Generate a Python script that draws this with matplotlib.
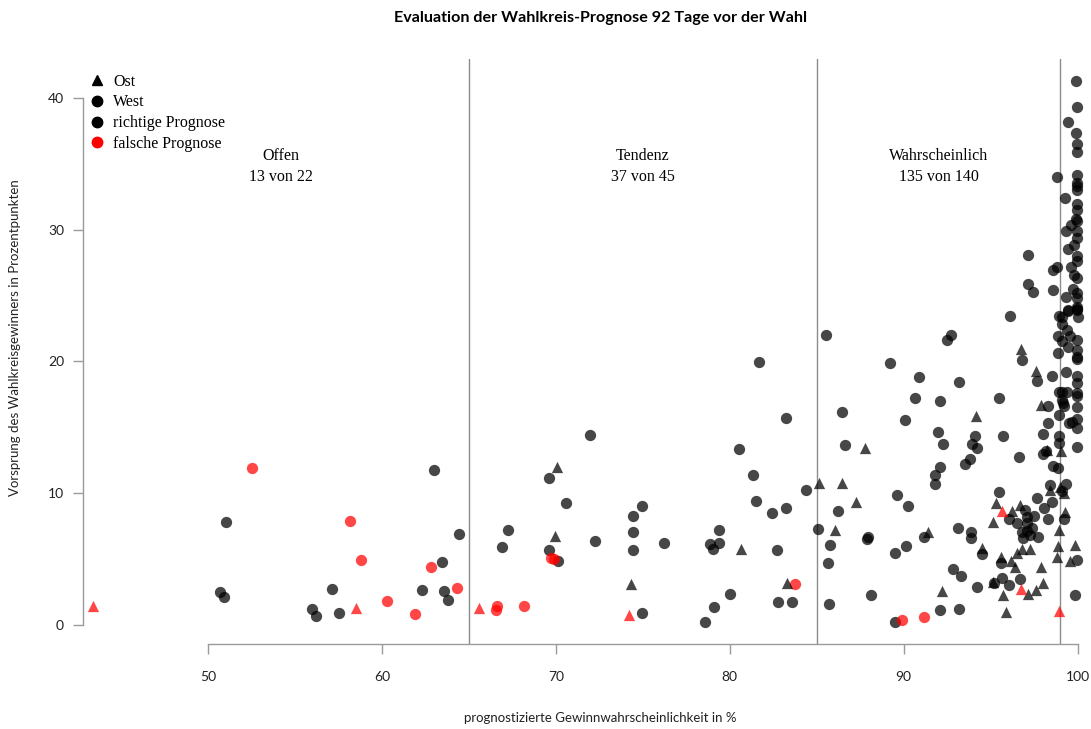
import numpy as np
import matplotlib
matplotlib.use("Agg")
import matplotlib.pyplot as plt
from matplotlib.lines import Line2D

# prognostizierte Gewinnwahrscheinlichkeit (%), Vorsprung (Prozentpunkte),
# Gebiet (O = Ost, W = West), Prognose richtig (1) oder falsch (0)
prob = [
    # Offen
    43.37, 52.56, 51.03, 50.72, 50.90, 58.16, 58.79, 64.44, 63.43, 62.83, 64.31,
    62.32, 63.58, 63.81, 57.16, 55.98, 56.22, 57.53, 58.54, 60.30, 61.90, 63.00,
    # Tendenz
    65.61, 66.64, 66.57, 68.16, 69.71, 69.90, 74.20, 83.77,
    66.93, 67.26, 69.58, 70.06, 70.59, 69.96, 69.62, 70.13, 71.97, 72.24, 74.31,
    74.94, 74.46, 74.98, 74.46, 74.44, 76.19, 78.58, 79.12, 80.02, 78.85, 79.06,
    79.38, 79.38, 80.63, 81.68, 83.22, 80.55, 81.34, 81.51, 82.45, 83.25, 82.72,
    83.31, 82.76, 83.58, 84.39,
    # Wahrscheinlich
    85.13, 85.09, 85.54, 86.45, 86.44, 86.65, 87.78, 87.28, 86.22, 86.07, 85.75,
    85.65, 85.69, 87.91, 87.93, 88.10, 89.20, 89.63, 90.26, 90.07, 90.67, 90.90,
    89.52, 90.11, 89.47, 89.88, 91.15, 92.09, 93.18, 92.18, 91.17, 91.38, 92.51,
    92.70, 93.18, 92.09, 91.98, 92.24, 92.10, 91.82, 91.82, 92.82, 93.31, 93.14,
    93.87, 93.87, 94.21, 94.17, 94.10, 93.94, 94.23, 93.83, 93.51, 94.48, 94.50,
    95.46, 95.29, 95.65, 95.15, 95.50, 95.69, 95.11, 95.20, 95.63, 95.57, 95.59,
    95.72, 95.88, 96.72, 96.80, 97.59, 97.68, 96.64, 97.89, 98.31, 98.52, 98.85,
    98.01, 98.32, 97.98, 98.20, 98.25, 98.60, 98.85, 98.94, 98.93, 98.94, 98.93,
    96.15, 96.42, 96.53, 96.81, 97.25, 96.77, 96.86, 97.06, 97.35, 97.25, 97.70,
    96.07, 96.51, 96.24, 96.70, 96.95, 97.06, 97.48, 97.06, 97.68, 98.05, 98.55,
    98.30, 98.42, 98.40, 98.98, 98.94, 98.88, 98.79, 97.89, 98.00, 97.59, 97.13,
    96.75, 96.70, 96.07, 97.13, 97.13, 97.41, 96.11, 98.60, 98.79, 98.60, 98.80,
    98.94, 98.85, 98.90,
    # Sicher
    99.10, 99.19, 99.33, 99.29, 99.20, 99.04, 99.86, 99.57, 99.95, 99.83, 99.31,
    99.88, 99.97, 99.42, 99.88, 99.97, 99.97, 99.97, 99.95, 99.95, 99.95, 99.29,
    99.97, 99.94, 99.90, 99.97, 99.63, 99.33, 99.97, 99.97, 99.78, 99.42, 99.94,
    99.97, 99.63, 99.78, 99.94, 99.73, 99.94, 99.97, 99.34, 99.97, 99.94, 99.46,
    99.10, 99.46, 99.94, 99.99, 99.09, 99.40, 99.10, 99.58, 99.97, 99.46, 99.97,
    99.97, 99.97, 99.94, 99.94, 99.08, 99.40, 99.94, 99.97, 99.09, 99.17, 99.24,
    99.97, 99.97, 99.97, 99.69, 99.48, 99.97,
]
vorsprung = [
    1.47, 11.95, 7.85, 2.48, 2.13, 7.87, 4.96, 6.91, 4.81, 4.40, 2.78,
    2.66, 2.61, 1.90, 2.73, 1.21, 0.68, 0.91, 1.31, 1.85, 0.81, 11.74,
    1.27, 1.47, 1.14, 1.42, 5.06, 5.00, 0.74, 3.09,
    5.92, 7.21, 11.19, 11.97, 9.29, 6.76, 5.69, 4.86, 14.43, 6.40, 3.09,
    0.94, 8.30, 9.06, 7.04, 5.69, 6.20, 0.25, 1.39, 2.33, 6.15, 5.75,
    6.25, 7.21, 5.77, 19.95, 15.69, 13.36, 11.41, 9.42, 8.53, 8.91, 5.69,
    3.19, 1.72, 1.72, 10.23,
    10.80, 7.27, 21.97, 10.76, 16.17, 13.64, 13.46, 9.36, 8.66, 7.21, 6.07,
    4.73, 1.62, 6.53, 6.65, 2.28, 19.89, 9.87, 9.01, 15.57, 17.24, 18.81,
    5.49, 6.02, 0.25, 0.40, 0.63, 1.16, 1.19, 2.58, 6.66, 7.08, 21.60,
    21.97, 18.47, 16.96, 14.63, 13.77, 12.00, 11.41, 10.73, 4.23, 3.72, 7.39,
    7.08, 6.58, 2.89, 15.85, 14.37, 13.72, 13.46, 12.58, 12.22, 5.87, 5.37,
    10.08, 9.26, 8.63, 7.80, 17.24, 14.37, 3.29, 3.20, 3.55, 5.14, 4.73,
    2.28, 0.99, 20.96, 20.12, 19.24, 18.50, 12.71, 16.66, 16.58, 18.86, 20.63,
    14.50, 15.36, 12.96, 13.23, 13.30, 12.07, 11.92, 14.37, 13.79, 15.92, 17.67,
    4.86, 4.43, 5.49, 5.77, 5.77, 7.08, 6.58, 7.16, 7.34, 6.81, 6.66,
    8.07, 7.74, 8.66, 9.09, 8.73, 8.22, 8.28, 7.77, 9.62, 8.91, 9.34,
    8.05, 10.65, 10.25, 10.50, 7.21, 6.02, 5.14, 4.43, 3.22, 2.66, 2.33,
    2.71, 3.49, 3.04, 28.09, 25.89, 25.23, 23.46, 26.95, 27.16, 25.38, 34.00,
    23.46, 21.94, 1.06,
    10.15, 10.00, 10.71, 8.56, 8.03, 13.21, 6.07, 4.88, 4.91, 2.28, 19.16,
    41.30, 39.28, 38.14, 37.30, 36.50, 35.86, 34.12, 33.54, 33.28, 33.03, 32.42,
    31.97, 31.46, 30.80, 30.62, 30.32, 29.92, 29.86, 29.35, 28.85, 28.53, 27.97,
    27.59, 27.16, 26.58, 26.32, 25.49, 25.19, 24.81, 24.85, 24.12, 23.97, 23.87,
    23.40, 23.80, 23.90, 23.36, 22.83, 22.40, 21.51, 21.94, 21.60, 21.08, 20.83,
    20.37, 20.17, 18.86, 18.35, 17.71, 17.67, 17.59, 17.34, 17.08, 16.83, 16.58,
    16.53, 15.62, 14.94, 15.39, 15.32, 13.54,
]
gebiet = list(
    "OWWWWWWWWWW" "WWWWWWWOWWW"
    "OWWWWWOW"
    "WWWOWOWWWWO" "WWWWWWWWWWW" "WWOWWWWWWWW" "OWWW"
    "OWWOWWOOWOW" "WWWWWWWWWWW" "WWWWWWWOWOW" "WWWWWWWWWWW" "WWWOWWWWWOW"
    "WOOOWWOWWOW" "OOOWOWWOWWW" "WWWWOWWWWWW" "OOOOOWWWWWW" "WWOOWWWWWWW"
    "WWOOOOOOOOO" "OWWWWWWWWWW" "WWO"
    "WOWOWOOOWWW" "WWWWWWWWWWW" "WWWWWWWWWWW" "WWWWWWWWWWW" "WWWWWWWWWWW"
    "WWWWWWWWWWW" "WWWWWW"
)
richtig = (
    [0, 0, 1, 1, 1, 0, 0, 1, 1, 0, 0, 1, 1, 1, 1, 1, 1, 1, 0, 0, 0, 1]
    + [0] * 8 + [1] * 37
    + [1] * 25 + [0, 0] + [1] * 30 + [0] + [1] * 63 + [0] + [1] * 12 + [0]
    + [1] * 72
)

kategorien = ["Offen", "Tendenz", "Wahrscheinlich"]
kat_x = [54.2, 75.0, 92.0]
kat_text = ["13 von 22", "37 von 45", "135 von 140"]
grenzen = [65, 85, 99]

prob = np.array(prob)
vorsprung = np.array(vorsprung)
gebiet = np.array(gebiet)
richtig = np.array(richtig)

W, H = 1091, 729
fig = plt.figure(figsize=(W / 100, H / 100), dpi=100)
ax = fig.add_axes([82.7 / W, (H - 643.5) / H, 1034.3 / W, 584.5 / H])
ax.set_xlim(42.8, 102.26)
ax.set_ylim(-1.40, 42.94)

for g in grenzen:
    ax.axvline(g, color="#8c8c8c", lw=1.0, zorder=1)

for geb, marker in [("W", "o"), ("O", "^")]:
    for r, farbe in [(1, "black"), (0, "red")]:
        m = (gebiet == geb) & (richtig == r)
        ax.scatter(prob[m], vorsprung[m], marker=marker, s=66, color=farbe,
                   alpha=0.72, linewidths=0, zorder=3)

serif = ["Liberation Serif", "DejaVu Serif"]
for name, x, txt in zip(kategorien, kat_x, kat_text):
    ax.text(x, 35.6, name, ha="center", va="center", fontsize=11.5, family=serif)
    ax.text(x, 34.0, txt, ha="center", va="center", fontsize=11.5, family=serif)

handles = [
    Line2D([], [], marker="^", color="black", ls="none", markersize=7.5),
    Line2D([], [], marker="o", color="black", ls="none", markersize=7.5),
    Line2D([], [], marker="o", color="black", ls="none", markersize=7.5),
    Line2D([], [], marker="o", color="red", ls="none", markersize=7.5),
]
labels = ["Ost", "West", "richtige Prognose", "falsche Prognose"]
ax.legend(handles, labels, loc="upper left", bbox_to_anchor=(0.0061, 0.975),
          frameon=False, handlelength=1.0, handletextpad=0.5, borderpad=0,
          borderaxespad=0, labelspacing=0.3, prop={"family": serif, "size": 11.5})

for s in ["top", "right"]:
    ax.spines[s].set_visible(False)
ax.spines["bottom"].set_bounds(50, 100)
ax.spines["left"].set_bounds(0, 40)
for s in ["bottom", "left"]:
    ax.spines[s].set_color("#9a9a9a")
    ax.spines[s].set_linewidth(1.0)

ax.set_xticks([50, 60, 70, 80, 90, 100])
ax.set_yticks([0, 10, 20, 30, 40])
ax.tick_params(axis="both", color="#9a9a9a", length=7.5, width=1.0,
               labelsize=10, labelcolor="#222222")
ax.tick_params(axis="x", pad=12)
ax.tick_params(axis="y", pad=6)
for lab in ax.get_xticklabels() + ax.get_yticklabels():
    lab.set_family(["Lato", "DejaVu Sans"])

ax.set_xlabel("prognostizierte Gewinnwahrscheinlichkeit in %", family=["Lato", "DejaVu Sans"],
              fontsize=9.5, color="#222222", labelpad=21)
ax.set_ylabel("Vorsprung des Wahlkreisgewinners in Prozentpunkten",
              family=["Lato", "DejaVu Sans"], fontsize=9.5, color="#222222")
ax.yaxis.set_label_coords(-0.0597, 0.524)

fig.text(600 / W, 1 - 18 / H, "Evaluation der Wahlkreis-Prognose 92 Tage vor der Wahl",
         ha="center", va="center", fontsize=11.6, fontweight="bold",
         family=["Lato", "DejaVu Sans"])

fig.savefig("out.png", dpi=100)
